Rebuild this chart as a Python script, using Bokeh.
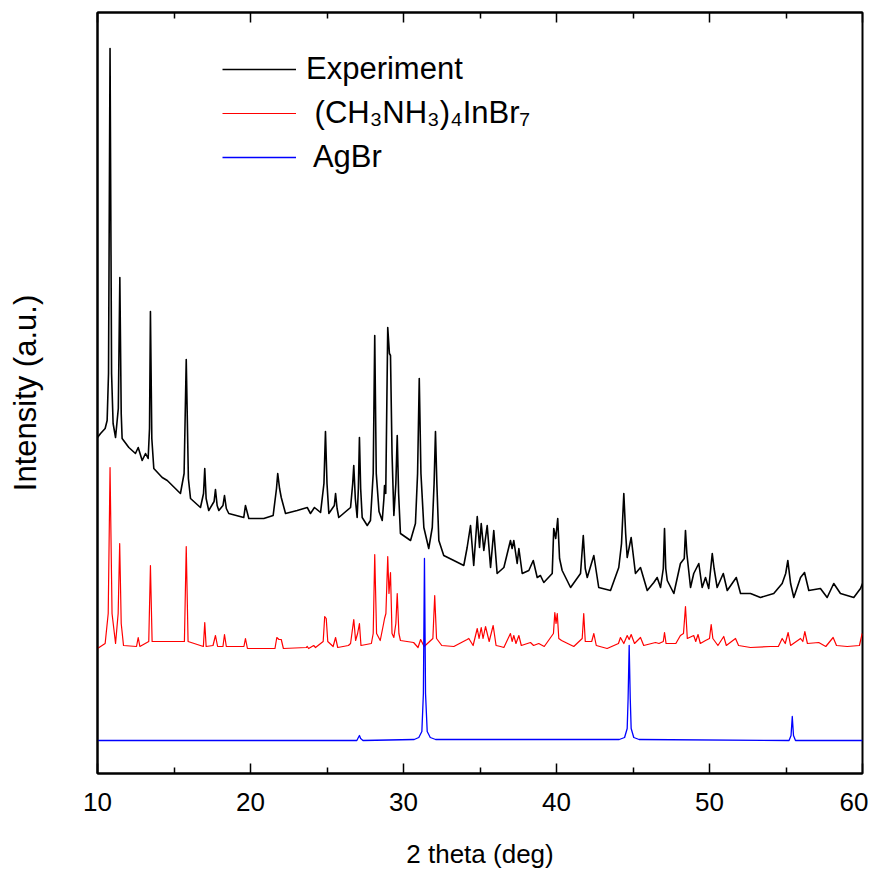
from bokeh.plotting import figure
from bokeh.models import Range1d, LinearAxis, FixedTicker, Legend, LegendItem
from bokeh.embed import file_html
from bokeh.resources import INLINE

# ---- data (2 theta in degrees, intensity in arbitrary units, offsets included) ----
experiment = [
    (10.00, 336), (10.20, 340), (10.50, 345), (10.63, 353), (10.72, 400), (10.82, 725), (10.92, 400),
    (11.02, 350), (11.18, 336), (11.36, 365), (11.46, 496), (11.55, 360), (11.61, 335), (12.05, 326),
    (12.48, 320), (12.66, 326), (12.92, 313), (13.14, 320), (13.31, 315), (13.40, 345), (13.46, 462),
    (13.55, 335), (13.68, 305), (14.23, 296), (14.56, 293), (15.42, 280), (15.66, 300), (15.80, 414),
    (15.94, 295), (16.08, 275), (16.73, 266), (16.93, 280), (17.01, 305), (17.10, 275), (17.27, 263),
    (17.62, 272), (17.71, 284), (17.82, 268), (17.93, 263), (18.20, 268), (18.30, 278), (18.42, 265),
    (18.58, 260), (19.56, 256), (19.67, 268), (19.89, 255), (20.87, 255), (21.48, 258), (21.70, 285),
    (21.78, 300), (21.90, 285), (22.01, 276), (22.29, 260), (23.05, 263), (23.71, 266), (23.92, 260),
    (24.18, 266), (24.58, 261), (24.80, 290), (24.90, 342), (25.00, 290), (25.12, 260), (25.48, 268),
    (25.56, 280), (25.66, 265), (25.77, 256), (26.54, 266), (26.68, 290), (26.75, 308), (26.85, 275),
    (26.97, 256), (27.05, 285), (27.12, 336), (27.20, 285), (27.30, 256), (27.63, 248), (27.84, 253),
    (28.02, 300), (28.12, 438), (28.22, 300), (28.40, 262), (28.61, 253), (28.72, 275), (28.76, 288),
    (28.84, 280), (28.97, 446), (29.08, 420), (29.15, 418), (29.25, 320), (29.37, 258), (29.50, 290),
    (29.59, 338), (29.68, 280), (29.80, 240), (30.46, 233), (30.78, 250), (30.92, 300), (31.03, 395),
    (31.14, 300), (31.33, 246), (31.65, 225), (31.88, 246), (32.00, 290), (32.09, 342), (32.18, 290),
    (32.31, 233), (32.63, 218), (33.29, 213), (33.94, 208), (34.16, 226), (34.38, 248), (34.59, 208),
    (34.82, 257), (34.97, 226), (35.08, 250), (35.25, 223), (35.47, 248), (35.69, 206), (35.90, 243),
    (36.12, 200), (36.56, 206), (36.99, 233), (37.10, 225), (37.21, 233), (37.43, 210), (37.54, 225),
    (37.76, 200), (38.19, 203), (38.48, 213), (38.74, 196), (38.95, 198), (39.17, 191), (39.72, 200),
    (39.82, 245), (39.95, 235), (40.08, 255), (40.20, 215), (40.37, 203), (40.92, 186), (41.57, 200),
    (41.75, 238), (41.88, 205), (42.01, 196), (42.44, 218), (42.76, 186), (43.53, 183), (44.07, 206),
    (44.25, 230), (44.40, 280), (44.52, 240), (44.62, 216), (44.88, 236), (45.16, 200), (45.49, 206),
    (45.93, 183), (46.36, 191), (46.58, 196), (46.80, 186), (46.98, 205), (47.06, 245), (47.14, 205),
    (47.24, 193), (47.67, 180), (48.10, 210), (48.35, 215), (48.43, 243), (48.52, 220), (48.76, 186),
    (48.97, 200), (49.30, 210), (49.52, 186), (49.74, 196), (49.95, 185), (50.18, 220), (50.30, 205),
    (50.50, 186), (50.90, 200), (51.16, 183), (51.75, 196), (52.03, 180), (52.68, 180), (53.33, 176),
    (54.20, 180), (54.75, 190), (54.98, 200), (55.12, 213), (55.30, 190), (55.51, 176), (55.95, 196),
    (56.21, 201), (56.49, 183), (57.25, 185), (57.69, 176), (58.12, 190), (58.56, 180), (59.43, 176),
    (59.87, 185), (60.00, 190),
]

mai_inbr = [
    (10.00, 125), (10.50, 130), (10.70, 160), (10.82, 306), (10.95, 160), (11.18, 130), (11.35, 160),
    (11.45, 230), (11.55, 150), (11.70, 128), (12.55, 127), (12.66, 136), (12.77, 127), (13.35, 132),
    (13.46, 208), (13.57, 132), (15.68, 132), (15.80, 227), (15.92, 132), (16.92, 127), (17.01, 151),
    (17.10, 127), (17.55, 128), (17.71, 138), (17.85, 127), (18.20, 127), (18.30, 139), (18.42, 127),
    (19.57, 127), (19.67, 135), (19.80, 125), (21.60, 125), (21.72, 136), (21.86, 134), (22.01, 134),
    (22.15, 125), (23.65, 126), (23.71, 127), (23.80, 125), (24.13, 128), (24.25, 126), (24.75, 132),
    (24.85, 157), (24.95, 155), (25.05, 132), (25.40, 127), (25.56, 136), (25.70, 126), (26.40, 128),
    (26.54, 130), (26.75, 154), (26.87, 133), (27.00, 140), (27.12, 150), (27.22, 128), (27.90, 130),
    (28.02, 140), (28.12, 219), (28.24, 140), (28.48, 133), (28.70, 150), (28.76, 155), (28.85, 160),
    (28.97, 217), (29.05, 180), (29.15, 201), (29.25, 140), (29.37, 136), (29.50, 150), (29.59, 180),
    (29.70, 140), (29.80, 133), (30.66, 131), (30.95, 126), (31.12, 134), (31.35, 127), (31.92, 135),
    (32.04, 178), (32.16, 135), (32.50, 128), (33.29, 127), (34.16, 134), (34.27, 135), (34.55, 128),
    (34.82, 145), (34.94, 135), (35.08, 146), (35.20, 135), (35.36, 147), (35.60, 132), (35.86, 148),
    (36.05, 128), (36.34, 127), (36.56, 126), (36.99, 140), (37.10, 132), (37.21, 138), (37.35, 130),
    (37.54, 138), (37.70, 128), (38.30, 131), (38.50, 128), (38.84, 130), (39.20, 127), (39.80, 140),
    (39.89, 161), (39.97, 150), (40.05, 160), (40.15, 135), (40.33, 133), (41.13, 127), (41.68, 135),
    (41.78, 160), (41.88, 132), (42.30, 132), (42.44, 140), (42.60, 128), (43.31, 125), (44.05, 130),
    (44.18, 136), (44.40, 130), (44.62, 138), (44.75, 134), (44.88, 139), (45.10, 130), (45.49, 136),
    (45.70, 128), (46.47, 131), (46.70, 130), (46.98, 132), (47.06, 141), (47.16, 130), (47.80, 130),
    (48.10, 138), (48.30, 140), (48.43, 167), (48.55, 135), (48.97, 138), (49.10, 132), (49.25, 139),
    (49.40, 130), (49.74, 133), (50.00, 135), (50.11, 149), (50.22, 135), (50.55, 128), (50.93, 137),
    (51.10, 128), (51.70, 135), (51.90, 128), (52.68, 126), (53.98, 127), (54.50, 127), (54.75, 135),
    (54.95, 130), (55.14, 141), (55.30, 128), (55.95, 135), (56.10, 132), (56.23, 142), (56.40, 130),
    (57.14, 131), (57.60, 127), (58.08, 136), (58.30, 128), (59.00, 127), (59.80, 128), (59.98, 140),
]

agbr = [
    (10.00, 33), (26.95, 33), (27.05, 36), (27.12, 38), (27.20, 35), (27.35, 33), (30.70, 34),
    (31.00, 36), (31.20, 42), (31.30, 80), (31.37, 215), (31.44, 80), (31.55, 42), (31.75, 36),
    (32.10, 34), (44.10, 34), (44.45, 36), (44.62, 45), (44.68, 75), (44.75, 128), (44.82, 75),
    (44.88, 45), (45.05, 36), (45.40, 34), (55.20, 33), (55.33, 38), (55.41, 57), (55.49, 38),
    (55.62, 33), (60.00, 33),
]

series_names = ["Experiment", " (CH\u2083NH\u2083)\u2084InBr\u2087", " AgBr"]
series_colors = ["#000000", "#ff0000", "#0000ff"]
x_major_ticks = [10, 20, 30, 40, 50, 60]
x_minor_ticks = [15, 25, 35, 45, 55]

SANS = "Liberation Sans"

p = figure(width=868, height=878, x_range=Range1d(10, 60), y_range=Range1d(0, 761),
           output_backend="svg", toolbar_location=None,
           min_border_left=97, min_border_right=6, min_border_top=12, min_border_bottom=105)
p.grid.visible = False
p.outline_line_color = "black"
p.outline_line_width = 2
p.background_fill_color = "white"
p.border_fill_color = "white"

renderers = []
for data, col, lw in zip([experiment, mai_inbr, agbr], series_colors, [1.6, 1.2, 1.3]):
    xs = [d[0] for d in data]
    ys = [d[1] for d in data]
    r = p.line(xs, ys, line_color=col, line_width=lw, line_join="round")
    renderers.append(r)

ticker = FixedTicker(ticks=x_major_ticks, minor_ticks=x_minor_ticks)

xa = p.xaxis[0]
xa.ticker = ticker
xa.axis_line_width = 2
xa.major_tick_in = 10
xa.major_tick_out = 0
xa.minor_tick_in = 6
xa.minor_tick_out = 0
xa.major_tick_line_width = 1.5
xa.minor_tick_line_width = 1.5
xa.major_label_text_font = SANS
xa.major_label_text_font_size = "26px"
xa.major_label_text_color = "black"
xa.major_label_standoff = 19
xa.axis_label = "2 theta (deg)"
xa.axis_label_text_font = SANS
xa.axis_label_text_font_size = "26px"
xa.axis_label_text_font_style = "normal"
xa.axis_label_text_color = "black"
xa.axis_label_standoff = 25

top = LinearAxis(ticker=ticker, axis_line_width=2, major_tick_in=10, major_tick_out=0,
                 minor_tick_in=6, minor_tick_out=0, major_tick_line_width=1.5,
                 minor_tick_line_width=1.5, major_label_text_font_size="1px",
                 major_label_text_color=None, major_label_standoff=0)
p.add_layout(top, "above")

ya = p.yaxis[0]
ya.ticker = FixedTicker(ticks=[])
ya.axis_line_width = 2
ya.major_tick_in = 0
ya.major_tick_out = 0
ya.minor_tick_in = 0
ya.minor_tick_out = 0
ya.axis_label = "Intensity (a.u.)"
ya.axis_label_text_font = SANS
ya.axis_label_text_font_size = "31px"
ya.axis_label_text_font_style = "normal"
ya.axis_label_text_color = "black"
ya.axis_label_standoff = 55

legend = Legend(items=[LegendItem(label=n, renderers=[r]) for n, r in zip(series_names, renderers)],
                location=(125, 596), padding=0, margin=0, spacing=4,
                glyph_width=74, glyph_height=20, label_standoff=10, label_height=40,
                label_text_font=SANS, label_text_font_size="31px", label_text_color="black",
                border_line_alpha=0, background_fill_alpha=0)
p.add_layout(legend, "center")

open("out.html", "w").write(file_html(p, INLINE))
